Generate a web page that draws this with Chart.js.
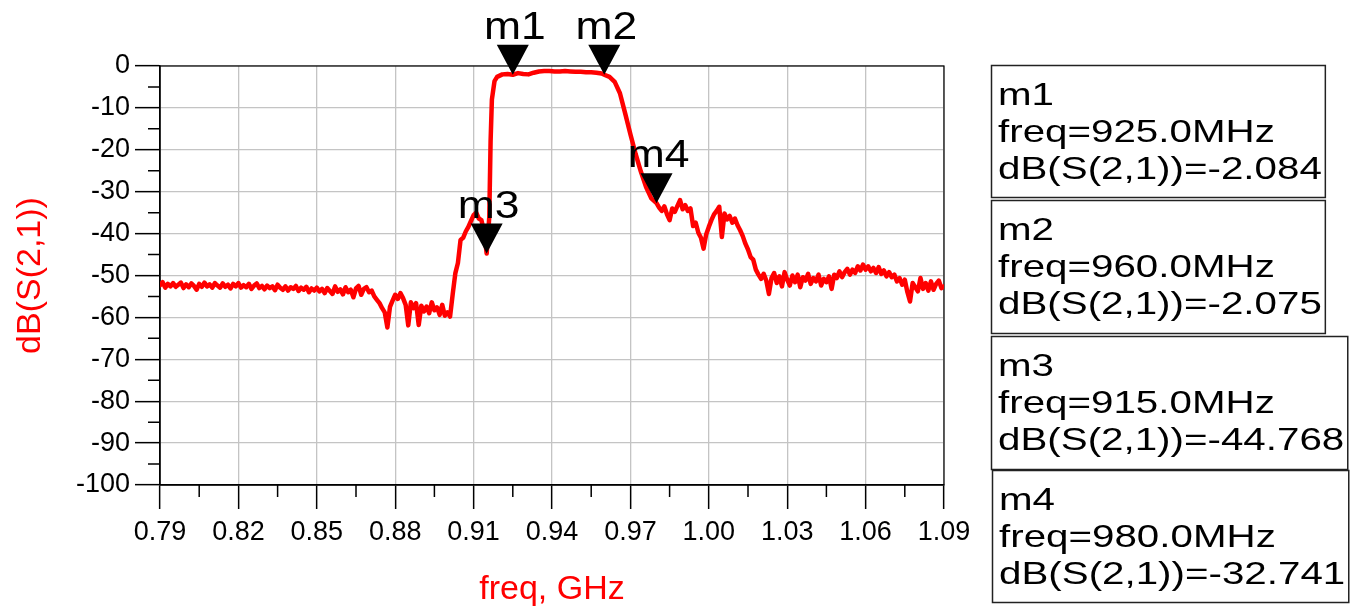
<!DOCTYPE html>
<html>
<head>
<meta charset="utf-8">
<script src="https://cdn.jsdelivr.net/npm/chart.js@4.4.0/dist/chart.umd.min.js"></script>
<style>
  html, body { margin: 0; padding: 0; background: #fff; }
  #wrap { width: 1357px; height: 612px; }
</style>
</head>
<body>
<div id="wrap"><canvas id="s21Graph" width="1357" height="612"></canvas></div>
<script>
"use strict"

// sweep (GHz / dB)
const freqGHz = [
  0.790, 0.791, 0.792, 0.793, 0.794, 0.795, 0.796, 0.797, 0.798, 0.799,
  0.800, 0.801, 0.802, 0.803, 0.804, 0.805, 0.806, 0.807, 0.808, 0.809,
  0.810, 0.811, 0.812, 0.813, 0.814, 0.815, 0.816, 0.817, 0.818, 0.819,
  0.820, 0.821, 0.822, 0.823, 0.824, 0.825, 0.826, 0.827, 0.828, 0.829,
  0.830, 0.831, 0.832, 0.833, 0.834, 0.835, 0.836, 0.837, 0.838, 0.839,
  0.840, 0.841, 0.842, 0.843, 0.844, 0.845, 0.846, 0.847, 0.848, 0.849,
  0.850, 0.851, 0.852, 0.853, 0.854, 0.855, 0.856, 0.857, 0.858, 0.859,
  0.860, 0.861, 0.862, 0.863, 0.864, 0.865, 0.866, 0.867, 0.868, 0.869,
  0.870, 0.871, 0.872, 0.873, 0.874, 0.875, 0.876, 0.877, 0.878, 0.879,
  0.880, 0.881, 0.882, 0.883, 0.884, 0.885, 0.886, 0.887, 0.888, 0.889,
  0.890, 0.891, 0.892, 0.893, 0.894, 0.895, 0.896, 0.897, 0.898, 0.899,
  0.900, 0.901,
  0.902, 0.903, 0.904, 0.905, 0.906, 0.907, 0.908, 0.909, 0.910, 0.911,
  0.912, 0.913, 0.914, 0.915, 0.916, 0.9165, 0.917, 0.918, 0.919, 0.921,
  0.923, 0.925, 0.927, 0.929, 0.931, 0.933, 0.935, 0.937, 0.939, 0.941,
  0.943, 0.945, 0.947, 0.949, 0.951, 0.953, 0.955, 0.957, 0.959, 0.960,
  0.962, 0.964, 0.966, 0.968, 0.970, 0.972, 0.974, 0.976, 0.978, 0.980,
  0.981, 0.982, 0.983, 0.984, 0.985, 0.986, 0.987, 0.988, 0.989, 0.990,
  0.991, 0.992, 0.993, 0.994, 0.995, 0.996, 0.997, 0.998, 0.999, 1.000,
  1.001, 1.002, 1.003, 1.004, 1.005, 1.006, 1.007, 1.008, 1.009, 1.010,
  1.011, 1.012, 1.013, 1.014, 1.015, 1.016, 1.017, 1.018, 1.019, 1.020,
  1.021, 1.022, 1.023, 1.024, 1.025, 1.026, 1.027, 1.028, 1.029, 1.030,
  1.031, 1.032, 1.033, 1.034, 1.035, 1.036, 1.037, 1.038, 1.039, 1.040,
  1.041, 1.042, 1.043, 1.044, 1.045, 1.046, 1.047, 1.048, 1.049, 1.050,
  1.051, 1.052, 1.053, 1.054, 1.055, 1.056, 1.057, 1.058, 1.059, 1.060,
  1.061, 1.062, 1.063, 1.064, 1.065, 1.066, 1.067, 1.068, 1.069, 1.070,
  1.071, 1.072, 1.073, 1.074, 1.075, 1.076, 1.077, 1.078, 1.079, 1.080,
  1.081, 1.082, 1.083, 1.084, 1.085, 1.086, 1.087, 1.088, 1.089, 1.090
];
const s21dB = [
  -52.3, -51.6, -52.9, -52.0, -52.6, -51.8, -52.7, -52.2, -51.7, -53.0,
  -52.1, -52.8, -51.9, -52.5, -53.4, -52.0, -52.7, -51.7, -52.6, -52.1,
  -52.9, -51.8, -52.4, -52.9, -51.9, -52.7, -52.2, -53.1, -52.0, -52.6,
  -51.8, -52.9, -52.3, -52.8, -52.0, -53.2, -52.4, -51.9, -53.0, -52.5,
  -53.3, -52.4, -53.0, -52.6, -53.5, -52.2, -52.9, -53.4, -52.6, -53.6,
  -52.8, -53.2, -52.5, -53.7, -52.9, -53.4, -52.7, -54.0, -53.1, -53.6,
  -52.9, -53.8, -53.2, -54.2, -53.0, -53.7, -54.4, -52.6, -53.9, -53.3,
  -54.5, -52.8, -54.0, -53.4, -55.2, -53.1, -52.5, -54.6, -53.2, -52.8,
  -54.0, -53.6, -55.0, -55.8, -56.6, -57.8, -58.8, -62.4, -57.5, -56.0,
  -54.6, -55.6, -54.2, -55.4, -57.0, -61.9, -56.4, -57.8, -56.6, -61.8,
  -57.2, -58.6, -57.4, -59.0, -56.4, -58.3, -57.6, -59.4, -57.0, -59.6,
  -58.8, -59.8,
  -54.5, -49.5, -47.0, -41.5, -41.0, -39.5, -38.4, -37.0, -35.6, -35.0,
  -36.4, -36.8, -39.5, -44.768, -36.0, -18.0, -8.0, -3.6, -2.6, -2.0,
  -1.9, -2.084, -1.7, -1.9, -2.0, -1.6, -1.3, -1.2, -1.2, -1.3,
  -1.3, -1.2, -1.3, -1.4, -1.4, -1.5, -1.5, -1.6, -1.8, -2.075,
  -2.6, -3.8, -6.5, -11.3, -16.3, -21.0, -25.2, -28.9, -31.6, -32.741,
  -33.8, -34.6, -33.5, -35.4, -36.8, -34.0, -34.8, -33.4, -32.0, -34.2,
  -33.2, -34.6, -34.0, -38.2, -37.4, -39.8, -41.0, -43.6, -40.2, -38.4,
  -36.8, -35.4, -34.6, -33.6, -40.8, -35.2, -36.6, -35.8, -37.4, -36.4,
  -38.0, -39.2, -40.6, -42.4, -43.8, -45.6, -46.2, -48.6, -49.8, -50.8,
  -49.6, -51.2, -54.4, -50.6, -49.4, -51.8, -50.2, -52.6, -49.2, -51.0,
  -52.4, -50.0, -51.6, -49.8, -52.8, -50.4, -51.2, -49.6, -52.0, -50.6,
  -51.4, -49.8, -52.4, -50.8, -51.6, -50.2, -53.2, -49.8, -50.6, -49.0,
  -50.4, -49.2, -48.4, -49.8, -48.6, -49.4, -47.8, -48.8, -47.4, -48.6,
  -47.8, -49.0, -48.2, -49.4, -48.0, -49.6, -48.8, -50.2, -49.2, -50.4,
  -49.8, -51.4, -50.6, -52.2, -51.0, -54.0, -56.2, -51.8, -52.8, -53.8,
  -50.6, -53.2, -51.8, -53.6, -51.4, -53.4, -52.0, -51.2, -53.0, -52.6
];

const xTicks = [0.79, 0.82, 0.85, 0.88, 0.91, 0.94, 0.97, 1.00, 1.03, 1.06, 1.09];
const yMin = -100, yMax = 0, yStep = 10;

const markerNames = ['m1', 'm2', 'm3', 'm4'];
const markerFreqMHz = [925.0, 960.0, 915.0, 980.0];
const markerDB = [-2.084, -2.075, -44.768, -32.741];

const FONT = "'Liberation Sans', Arial, sans-serif";

// frame + minor ticks
const framePlugin = {
    id: 'frame',
    beforeDatasetsDraw(chart) {
        const { ctx, chartArea: a, scales } = chart;
        ctx.save();
        ctx.strokeStyle = '#000';
        ctx.lineWidth = 1.2;
        ctx.strokeRect(a.left, a.top, a.right - a.left, a.bottom - a.top);
        ctx.lineWidth = 1.5;
        ctx.beginPath();
        for (let i = 0; i < xTicks.length - 1; i++) {
            const px = scales.x.getPixelForValue((xTicks[i] + xTicks[i + 1]) / 2);
            ctx.moveTo(px, a.bottom);
            ctx.lineTo(px, a.bottom + 12);
        }
        for (let v = yMin; v < yMax; v += yStep) {
            const py = scales.y.getPixelForValue(v + yStep / 2);
            ctx.moveTo(a.left, py);
            ctx.lineTo(a.left - 12, py);
        }
        ctx.stroke();
        ctx.restore();
    }
};

// triangles + names above the curve
const markerPlugin = {
    id: 'markers',
    afterDatasetsDraw(chart) {
        const { ctx, scales: { x, y } } = chart;
        ctx.save();
        markerNames.forEach((name, i) => {
            const px = x.getPixelForValue(markerFreqMHz[i] / 1000);
            const py = y.getPixelForValue(markerDB[i]);
            ctx.fillStyle = '#000';
            ctx.beginPath();
            ctx.moveTo(px - 16, py - 30);
            ctx.lineTo(px + 16, py - 30);
            ctx.lineTo(px, py);
            ctx.closePath();
            ctx.fill();

            ctx.save();
            ctx.translate(px + 2, py - 36);
            ctx.scale(1.17, 1);
            ctx.font = '38px ' + FONT;
            ctx.textAlign = 'center';
            ctx.textBaseline = 'alphabetic';
            ctx.fillText(name, 0, 0);
            ctx.restore();
        });
        ctx.restore();
    }
};

// readout boxes on the right
const boxLeft = [991, 991, 991, 992];
const boxTop = [65, 200, 336, 470];
const boxHeight = [132, 133, 133, 132];

const readoutPlugin = {
    id: 'readout',
    afterDraw(chart) {
        const ctx = chart.ctx;
        const stretch = 1.26;
        ctx.save();
        ctx.font = '32px ' + FONT;
        ctx.textAlign = 'left';
        ctx.textBaseline = 'alphabetic';
        markerNames.forEach((name, i) => {
            const lines = [
                name,
                'freq=' + markerFreqMHz[i].toFixed(1) + 'MHz',
                'dB(S(2,1))=' + markerDB[i].toFixed(3)
            ];
            const w = Math.max(...lines.map(t => ctx.measureText(t).width)) * stretch + 10;
            ctx.strokeStyle = '#222';
            ctx.lineWidth = 1.5;
            ctx.strokeRect(boxLeft[i] + 0.5, boxTop[i] + 0.5, w, boxHeight[i]);
            ctx.fillStyle = '#000';
            lines.forEach((t, k) => {
                ctx.save();
                ctx.translate(boxLeft[i] + 7, boxTop[i] + 40 + k * 37);
                ctx.scale(stretch, 1);
                ctx.fillText(t, 0, 0);
                ctx.restore();
            });
        });
        ctx.restore();
    }
};

const canvas = document.getElementById('s21Graph');
const ctx = canvas.getContext('2d');

new Chart(ctx, {
    type: 'line',
    data: {
        datasets: [{
            label: 'dB(S(2,1))',
            data: freqGHz.map((f, i) => ({ x: f, y: s21dB[i] })),
            borderColor: '#ff0000',
            borderWidth: 4.5,
            borderJoinStyle: 'round',
            borderCapStyle: 'round',
            pointRadius: 0,
            tension: 0,
            fill: false
        }]
    },
    options: {
        responsive: false,
        animation: false,
        events: [],
        layout: {
            padding: { left: 0, top: 66, right: 413, bottom: 0 }
        },
        plugins: {
            legend: { display: false },
            tooltip: { enabled: false }
        },
        scales: {
            x: {
                type: 'linear',
                min: 0.79,
                max: 1.09,
                afterBuildTicks: scale => {
                    scale.ticks = xTicks.map(v => ({ value: v }));
                },
                afterFit: scale => { scale.height = 127; },
                ticks: {
                    color: '#000',
                    padding: 7,
                    maxRotation: 0,
                    autoSkip: false,
                    font: { family: FONT, size: 27 },
                    callback: v => Number(v).toFixed(2)
                },
                grid: {
                    color: '#c4c4c4',
                    lineWidth: 1.3,
                    tickColor: '#000',
                    tickLength: 24,
                    tickWidth: 1.5
                },
                border: { color: '#000', width: 1.5 },
                title: {
                    display: true,
                    text: 'freq, GHz',
                    color: '#ff0000',
                    padding: { top: 0, bottom: 2 },
                    font: { family: FONT, size: 34 }
                }
            },
            y: {
                min: yMin,
                max: yMax,
                afterFit: scale => { scale.width = 160; },
                ticks: {
                    stepSize: yStep,
                    color: '#000',
                    padding: 5,
                    font: { family: FONT, size: 27 }
                },
                grid: {
                    color: '#c4c4c4',
                    lineWidth: 1.3,
                    tickColor: '#000',
                    tickLength: 25,
                    tickWidth: 1.5
                },
                border: { color: '#000', width: 1.5 },
                title: {
                    display: true,
                    text: 'dB(S(2,1))',
                    color: '#ff0000',
                    padding: { top: 10, bottom: 0 },
                    font: { family: FONT, size: 34 }
                }
            }
        }
    },
    plugins: [framePlugin, markerPlugin, readoutPlugin]
});
</script>
</body>
</html>
